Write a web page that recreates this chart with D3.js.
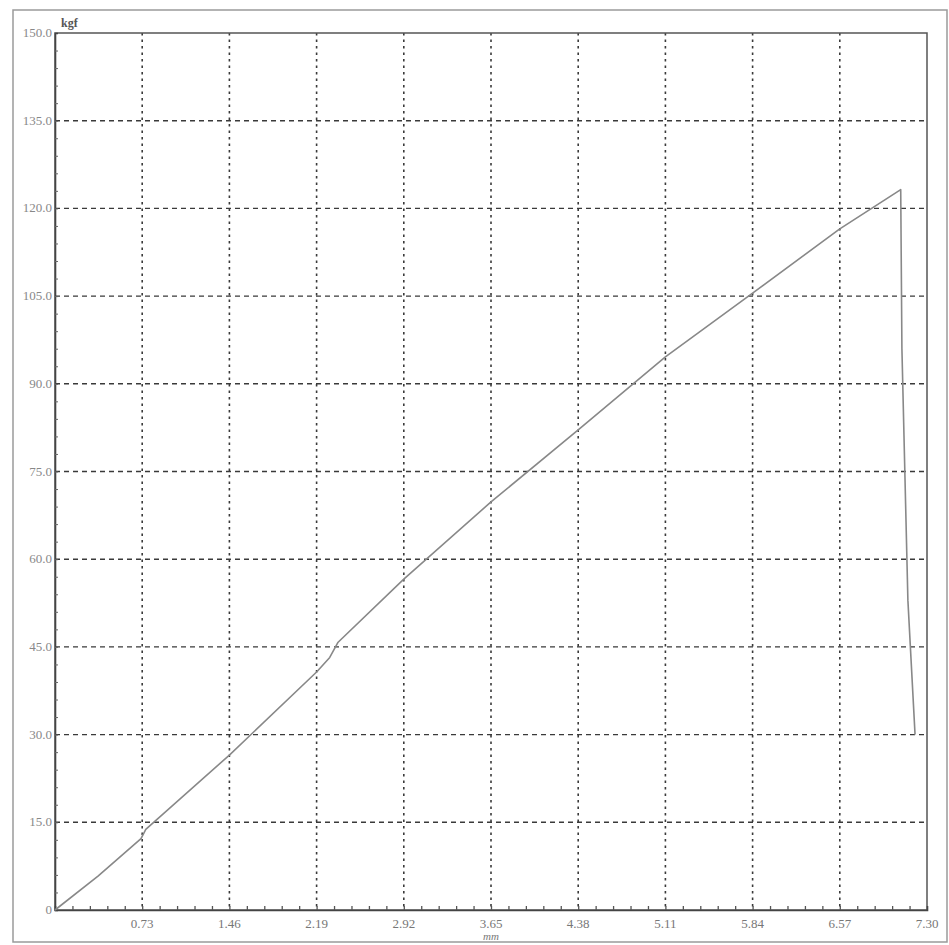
<!DOCTYPE html>
<html>
<head>
<meta charset="utf-8">
<script src="https://cdn.jsdelivr.net/npm/d3@7"></script>
<style>
  html, body { margin: 0; padding: 0; background: #fff; }
  svg { display: block; }
</style>
</head>
<body>
<svg id="chart" width="949" height="945"></svg>
<script>
// ---- data ----
const xTicks = [0.73, 1.46, 2.19, 2.92, 3.65, 4.38, 5.11, 5.84, 6.57, 7.30];
const xTickLabels = ["0.73", "1.46", "2.19", "2.92", "3.65", "4.38", "5.11", "5.84", "6.57", "7.30"];
const yTicks = [0, 15, 30, 45, 60, 75, 90, 105, 120, 135, 150];
const yTickLabels = ["0", "15.0", "30.0", "45.0", "60.0", "75.0", "90.0", "105.0", "120.0", "135.0", "150.0"];
const xUnit = "mm";
const yUnit = "kgf";
// displacement (mm)
const seriesX = [0, 0.36, 0.72, 0.76, 1.46, 2.19, 2.30, 2.37, 2.92, 3.65, 4.38, 5.11, 5.84, 6.57, 7.08, 7.09, 7.14, 7.20];
// force (kgf)
const seriesY = [0, 5.8, 12.2, 13.8, 26.5, 40.7, 43.2, 45.8, 56.6, 69.8, 82.1, 94.6, 105.5, 116.5, 123.2, 96.0, 53.0, 30.0];

// ---- layout ----
const svg = d3.select("#chart");
const pL = 55, pR = 927, pT = 33, pB = 910;
const x = d3.scaleLinear().domain([0, 7.30]).range([pL, pR]);
const y = d3.scaleLinear().domain([0, 150]).range([pB, pT]);

// outer frame
svg.append("rect")
  .attr("x", 13).attr("y", 10).attr("width", 934).attr("height", 932)
  .attr("fill", "none").attr("stroke", "#9a9a9a").attr("stroke-width", 1.5);

// grid
const gridColor = "#3a3a3a";
svg.append("g").selectAll("line").data(xTicks.slice(0, -1)).join("line")
  .attr("x1", d => x(d)).attr("x2", d => x(d))
  .attr("y1", pT).attr("y2", pB)
  .attr("stroke", gridColor).attr("stroke-width", 1.6)
  .attr("stroke-dasharray", "2.5,4");
svg.append("g").selectAll("line").data(yTicks.slice(1, -1)).join("line")
  .attr("x1", pL).attr("x2", pR)
  .attr("y1", d => y(d)).attr("y2", d => y(d))
  .attr("stroke", gridColor).attr("stroke-width", 1.4)
  .attr("stroke-dasharray", "5,4");

// plot border
svg.append("rect")
  .attr("x", pL).attr("y", pT).attr("width", pR - pL).attr("height", pB - pT)
  .attr("fill", "none").attr("stroke", "#555").attr("stroke-width", 1.5);

// axes with minor ticks
const minorX = d3.range(0, 50).map(i => i * 0.146).filter(v => v > 0 && v < 7.29);
const xAxis = d3.axisBottom(x).tickValues(minorX).tickSize(-4).tickFormat("");
const gx = svg.append("g").attr("transform", `translate(0,${pB})`).call(xAxis);
gx.select(".domain").attr("stroke", "#444").attr("stroke-width", 1.6);
gx.selectAll(".tick line").attr("stroke", "#555").attr("stroke-width", 1.3);

const minorY = d3.range(0, 51).map(i => i * 3).filter(v => v > 0 && v < 150);
const yAxis = d3.axisLeft(y).tickValues(minorY).tickSize(-3).tickFormat("");
const gy = svg.append("g").attr("transform", `translate(${pL},0)`).call(yAxis);
gy.select(".domain").attr("stroke", "#444").attr("stroke-width", 1.6);
gy.selectAll(".tick line").attr("stroke", "#666").attr("stroke-width", 1);

// tick labels
const labelFont = "Liberation Serif, DejaVu Serif, serif";
svg.append("g").selectAll("text").data(xTicks).join("text")
  .attr("x", d => x(d)).attr("y", 928)
  .attr("text-anchor", "middle")
  .attr("font-family", labelFont).attr("font-size", 13)
  .attr("fill", "#777")
  .text((d, i) => xTickLabels[i]);
svg.append("g").selectAll("text").data(yTicks).join("text")
  .attr("x", 52).attr("y", d => y(d) + 4)
  .attr("text-anchor", "end")
  .attr("font-family", labelFont).attr("font-size", 13)
  .attr("fill", "#888")
  .text((d, i) => yTickLabels[i]);

// units
svg.append("text").attr("x", 61).attr("y", 27)
  .attr("font-family", labelFont).attr("font-size", 12).attr("font-weight", "bold")
  .attr("fill", "#555").text(yUnit);
svg.append("text").attr("x", x(3.65)).attr("y", 940)
  .attr("text-anchor", "middle")
  .attr("font-family", labelFont).attr("font-size", 11).attr("font-style", "italic")
  .attr("fill", "#777").text(xUnit);

// data line
const pts = seriesX.map((v, i) => [v, seriesY[i]]);
svg.append("path")
  .datum(pts)
  .attr("d", d3.line().x(d => x(d[0])).y(d => y(d[1])))
  .attr("fill", "none").attr("stroke", "#888").attr("stroke-width", 1.6)
  .attr("stroke-linejoin", "round");
</script>
</body>
</html>
